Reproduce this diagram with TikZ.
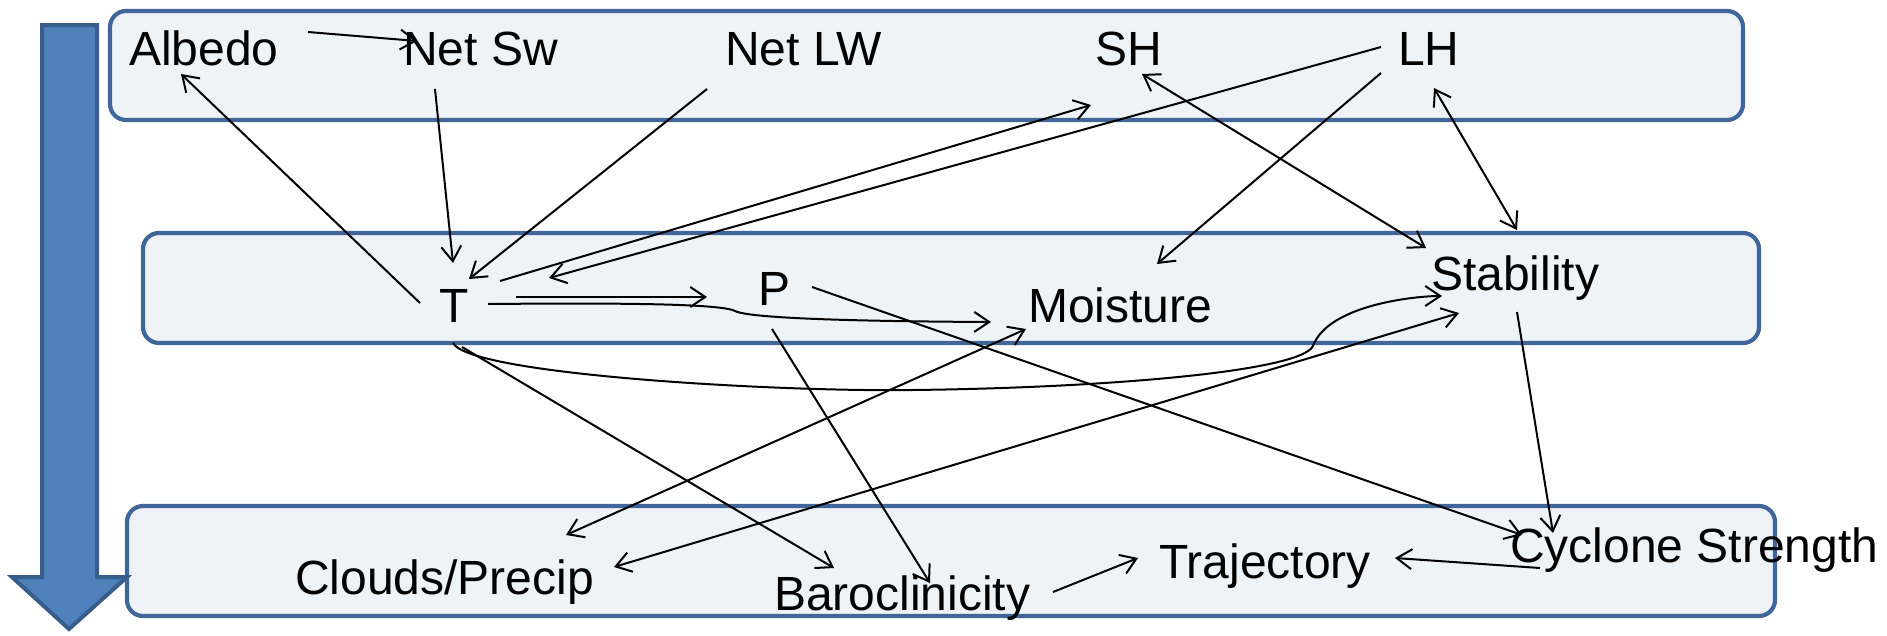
\documentclass[tikz,border=0pt]{standalone}
\usepackage{fontspec}
\setmainfont{Liberation Sans}
\usetikzlibrary{arrows.meta}
\definecolor{boxline}{RGB}{65,103,154}
\definecolor{boxfill}{RGB}{238,243,248}
\definecolor{bigfill}{RGB}{79,129,189}
\definecolor{bigline}{RGB}{56,93,138}
\begin{document}
\begin{tikzpicture}[x=1pt,y=-1pt,
  lbl/.style={anchor=base west, inner sep=0pt, font=\fontsize{48}{58}\selectfont},
  layer/.style={draw=boxline, fill=boxfill, line width=4.2pt, rounded corners=16pt},
  arr/.style={line width=2pt, -{Straight Barb[length=15pt,width=20pt]}},
  darr/.style={line width=2pt, {Straight Barb[length=15pt,width=20pt]}-{Straight Barb[length=15pt,width=20pt]}},
]
\useasboundingbox (0,0) rectangle (1887,635);
% layers
\draw[layer] (110,11) rectangle (1743,120);
\draw[layer] (143,233) rectangle (1759,343);
\draw[layer] (127,506) rectangle (1775,616);
% big arrow
\draw[fill=bigfill, draw=bigline, line width=4pt, line join=miter]
  (42,25) -- (97,25) -- (97,577) -- (127,577) -- (69,629) -- (12,577) -- (42,577) -- cycle;
% labels
\node[lbl] (Albedo) at (129,65) {Albedo};
\node[lbl] (NetSw) at (403,65) {Net Sw};
\node[lbl] (NetLW) at (725,65) {Net LW};
\node[lbl] (SH) at (1095,65) {SH};
\node[lbl] (LH) at (1398,65) {LH};
\node[lbl] (T) at (439,322) {T};
\node[lbl] (P) at (758,305) {P};
\node[lbl] (Moist) at (1028,322) {Moisture};
\node[lbl] (Stab) at (1431,290) {Stability};
\node[lbl] (Cloud) at (295,594) {Clouds/Precip};
\node[lbl] (Baro) at (774,610) {Baroclinicity};
\node[lbl] (Traj) at (1159,578) {Trajectory};
\node[lbl] (Cyc) at (1510,562) {Cyclone Strength};
% connectors
\draw[arr] ([shift={(179,-33)}]Albedo.base west) -- ([shift={(14,-24)}]NetSw.base west);
\draw[arr] ([shift={(-19,-19)}]T.base west) -- ([shift={(52,9)}]Albedo.base west);
\draw[arr] ([shift={(32,24)}]NetSw.base west) -- ([shift={(14,-59)}]T.base west);
\draw[arr] ([shift={(-18,24)}]NetLW.base west) -- ([shift={(30,-43)}]T.base west);
\draw[arr] ([shift={(61,-41)}]T.base west) -- ([shift={(-4,40)}]SH.base west);
\draw[arr] ([shift={(-17,-18)}]LH.base west) -- ([shift={(110,-44)}]T.base west);
\draw[arr] ([shift={(77,-25)}]T.base west) -- ([shift={(-51,-8)}]P.base west);
\draw[arr] ([shift={(49,-18)}]T.base west) .. controls (600,303) and (720,303) .. (735,311)
  .. controls (745,316) and (800,321) .. ([shift={(-37,0)}]Moist.base west);
\draw[arr] ([shift={(54,-18)}]P.base west) -- ([shift={(12,-27)}]Cyc.base west);
\draw[arr] ([shift={(14,24)}]P.base west) -- ([shift={(156,-27)}]Baro.base west);
\draw[arr] ([shift={(-17,8)}]LH.base west) -- ([shift={(129,-58)}]Moist.base west);
\draw[darr] ([shift={(47,9)}]SH.base west) -- ([shift={(-5,-42)}]Stab.base west);
\draw[darr] ([shift={(36,23)}]LH.base west) -- ([shift={(86,-60)}]Stab.base west);
\draw[arr] ([shift={(14,21)}]T.base west) .. controls (470,375) and (780,392) .. (912,390)
  .. controls (1100,388) and (1300,372) .. (1313,346)
  .. controls (1328,305) and (1415,296) .. ([shift={(11,6)}]Stab.base west);
\draw[arr] ([shift={(23,25)}]T.base west) -- ([shift={(60,-42)}]Baro.base west);
\draw[darr] ([shift={(271,-59)}]Cloud.base west) -- ([shift={(-2,7)}]Moist.base west);
\draw[darr] ([shift={(319,-27)}]Cloud.base west) -- ([shift={(28,23)}]Stab.base west);
\draw[arr] ([shift={(86,22)}]Stab.base west) -- ([shift={(43,-29)}]Cyc.base west);
\draw[arr] ([shift={(30,6)}]Cyc.base west) -- ([shift={(236,-20)}]Traj.base west);
\draw[arr] ([shift={(279,-18)}]Baro.base west) -- ([shift={(-21,-20)}]Traj.base west);
\end{tikzpicture}
\end{document}
